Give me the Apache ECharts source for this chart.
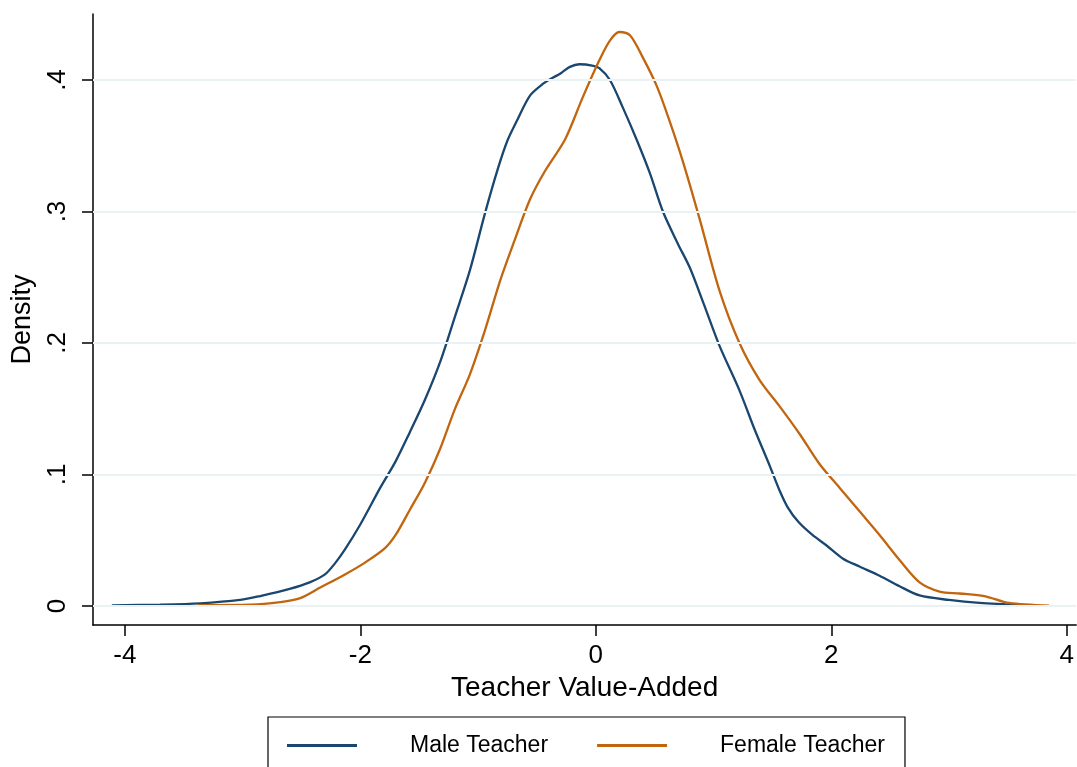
<!DOCTYPE html>
<html>
<head>
<meta charset="utf-8">
<script src="https://cdn.jsdelivr.net/npm/echarts@6/dist/echarts.min.js"></script>
<style>html,body{margin:0;padding:0;background:#fff;}#c{width:1077px;height:767px;}</style>
</head>
<body>
<div id="c"></div>
<script>
const xTicks = [-4, -2, 0, 2, 4];
const yTicks = [0, 0.1, 0.2, 0.3, 0.4];
const seriesNames = ['Male Teacher', 'Female Teacher'];

const maleX = [-4.11,-3.7,-3.36,-3.02,-2.85,-2.6,-2.43,-2.3,-2.21,-2.13,-2.0,-1.83,-1.7,-1.58,-1.45,-1.32,-1.2,-1.07,-0.94,-0.83,-0.75,-0.67,-0.56,-0.45,-0.38,-0.3,-0.22,-0.14,-0.03,0.03,0.12,0.23,0.35,0.46,0.57,0.7,0.8,0.92,1.05,1.22,1.35,1.48,1.56,1.63,1.72,1.84,1.96,2.1,2.24,2.41,2.58,2.75,3.0,3.26,3.63];
const maleY = [0.0005,0.001,0.002,0.0046,0.0076,0.013,0.018,0.024,0.033,0.043,0.062,0.090,0.110,0.132,0.157,0.186,0.219,0.255,0.299,0.333,0.354,0.369,0.388,0.397,0.401,0.405,0.410,0.412,0.411,0.409,0.400,0.379,0.354,0.329,0.300,0.275,0.257,0.229,0.198,0.164,0.134,0.106,0.088,0.075,0.064,0.054,0.046,0.036,0.030,0.023,0.015,0.008,0.0046,0.0023,0.0005];

const femaleX = [-3.38,-2.93,-2.68,-2.51,-2.34,-2.13,-1.96,-1.79,-1.70,-1.58,-1.45,-1.32,-1.2,-1.07,-0.94,-0.81,-0.69,-0.56,-0.43,-0.26,-0.11,0.03,0.12,0.2,0.29,0.4,0.52,0.63,0.74,0.88,1.05,1.22,1.39,1.56,1.73,1.9,2.07,2.24,2.41,2.58,2.75,2.92,3.09,3.3,3.51,3.85];
const femaleY = [0.0007,0.001,0.003,0.006,0.014,0.024,0.033,0.044,0.054,0.073,0.094,0.120,0.149,0.176,0.210,0.248,0.278,0.309,0.331,0.355,0.387,0.415,0.430,0.4365,0.434,0.417,0.395,0.368,0.338,0.295,0.240,0.200,0.172,0.152,0.131,0.108,0.090,0.072,0.054,0.035,0.018,0.011,0.0095,0.0076,0.0023,0.0003];

const pair = (xs, ys) => xs.map((x, i) => [x, ys[i]]);
const FONT = '"Liberation Sans", Arial, Helvetica, sans-serif';

const chart = echarts.init(document.getElementById('c'), null, {renderer: 'canvas'});
chart.setOption({
  animation: false,
  backgroundColor: '#ffffff',
  grid: {left: 93, right: 0, top: 14, bottom: 142, containLabel: false},
  xAxis: {
    type: 'value', min: -4.27, max: 4.08,
    name: 'Teacher Value-Added', nameLocation: 'middle', nameGap: 47,
    nameTextStyle: {fontFamily: FONT, fontSize: 28, color: '#000'},
    axisLine: {onZero: false, lineStyle: {color: '#000', width: 1.5}},
    axisTick: {show: true, customValues: xTicks, length: 11, lineStyle: {color: '#000', width: 1.5}},
    axisLabel: {customValues: xTicks, margin: 18, fontFamily: FONT, fontSize: 26, color: '#000',
      formatter: v => String(v)},
    splitLine: {show: false}
  },
  yAxis: {
    type: 'value', min: -0.01445, max: 0.4502,
    name: 'Density', nameLocation: 'middle', nameGap: 57, nameRotate: 90,
    nameTextStyle: {fontFamily: FONT, fontSize: 27, color: '#000'},
    axisLine: {show: true, onZero: false, lineStyle: {color: '#000', width: 1.5}},
    axisTick: {show: true, customValues: yTicks, length: 11, lineStyle: {color: '#000', width: 1.5}},
    axisLabel: {customValues: yTicks, rotate: 90, margin: 22, fontFamily: FONT, fontSize: 26, color: '#000',
      formatter: v => v === 0 ? '0' : String(Math.round(v * 10) / 10).replace(/^0/, '')},
    splitLine: {show: false}
  },
  legend: {
    left: 268, top: 717,
    data: seriesNames,
    icon: 'rect', itemWidth: 70, itemHeight: 3, itemGap: 49,
    borderColor: '#000', borderWidth: 1.2,
    padding: [17, 20, 20, 19],
    textStyle: {fontFamily: FONT, fontSize: 23, color: '#000', padding: [0, 0, 0, 48]}
  },
  series: [
    {
      type: 'line', name: 'grid', data: [], z: 1, silent: true,
      markLine: {
        silent: true, symbol: 'none', label: {show: false},
        lineStyle: {color: '#eaf2f3', width: 2, type: 'solid'},
        data: yTicks.map(v => ({yAxis: v}))
      }
    },
    {
      type: 'line', name: seriesNames[0], data: pair(maleX, maleY), z: 3,
      smooth: 0.3, showSymbol: false, symbol: 'none',
      lineStyle: {color: '#1a476f', width: 2.3}, itemStyle: {color: '#1a476f'}
    },
    {
      type: 'line', name: seriesNames[1], data: pair(femaleX, femaleY), z: 3,
      smooth: 0.3, showSymbol: false, symbol: 'none',
      lineStyle: {color: '#c1650e', width: 2.3}, itemStyle: {color: '#c1650e'}
    }
  ]
});
</script>
</body>
</html>
